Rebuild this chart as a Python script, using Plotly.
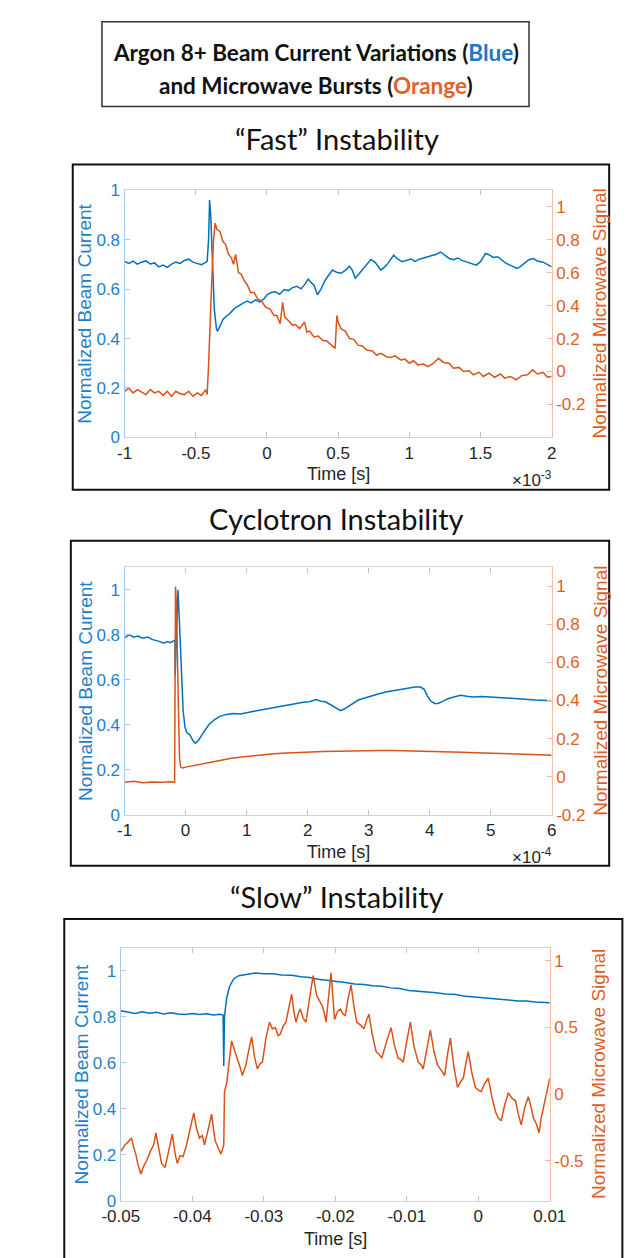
import plotly.graph_objects as go

W, H = 629, 1258
BLUE = '#0072BD'
ORANGE = '#D95319'
BLUE_TXT = '#1F80C8'
ORANGE_TXT = '#DE5F26'

# ---------------- data ----------------
# "Fast" instability, time in units of 1e-3 s
fast_blue = [(-1.00,0.712),(-0.97,0.704),(-0.94,0.713),(-0.91,0.701),(-0.88,0.709),(-0.85,0.714),(-0.82,0.702),(-0.79,0.706),(-0.76,0.690),(-0.73,0.697),(-0.70,0.688),(-0.67,0.701),(-0.64,0.709),(-0.61,0.704),(-0.58,0.716),(-0.55,0.721),(-0.52,0.709),(-0.49,0.704),(-0.46,0.699),(-0.43,0.708),(-0.42,0.712),(-0.41,0.80),(-0.403,0.96),(-0.395,0.90),(-0.385,0.72),(-0.37,0.52),(-0.355,0.44),(-0.347,0.43),(-0.33,0.45),(-0.31,0.476),(-0.29,0.488),(-0.26,0.502),(-0.23,0.521),(-0.20,0.533),(-0.17,0.542),(-0.14,0.552),(-0.11,0.544),(-0.08,0.556),(-0.05,0.548),(-0.02,0.561),(0.00,0.577),(0.03,0.586),(0.06,0.589),(0.09,0.579),(0.12,0.598),(0.15,0.594),(0.18,0.606),(0.21,0.611),(0.24,0.601),(0.27,0.622),(0.29,0.641),(0.31,0.626),(0.33,0.617),(0.355,0.577),(0.38,0.601),(0.41,0.637),(0.44,0.659),(0.46,0.677),(0.49,0.668),(0.52,0.664),(0.55,0.676),(0.58,0.693),(0.60,0.676),(0.62,0.644),(0.65,0.664),(0.69,0.690),(0.73,0.720),(0.76,0.708),(0.80,0.677),(0.83,0.691),(0.85,0.704),(0.89,0.737),(0.92,0.721),(0.95,0.711),(0.98,0.718),(1.01,0.722),(1.04,0.712),(1.07,0.721),(1.10,0.726),(1.13,0.731),(1.16,0.734),(1.19,0.741),(1.22,0.750),(1.25,0.736),(1.28,0.724),(1.31,0.719),(1.34,0.726),(1.37,0.716),(1.40,0.711),(1.43,0.704),(1.47,0.697),(1.50,0.711),(1.535,0.744),(1.56,0.739),(1.59,0.728),(1.62,0.731),(1.65,0.719),(1.68,0.704),(1.72,0.694),(1.755,0.684),(1.78,0.691),(1.81,0.706),(1.84,0.719),(1.87,0.724),(1.90,0.714),(1.94,0.709),(1.97,0.699),(2.00,0.690)]
fast_orange = [(-1.00,-0.12),(-0.97,-0.10),(-0.94,-0.13),(-0.91,-0.11),(-0.88,-0.125),(-0.85,-0.14),(-0.82,-0.11),(-0.79,-0.13),(-0.76,-0.12),(-0.73,-0.145),(-0.70,-0.12),(-0.67,-0.15),(-0.64,-0.12),(-0.61,-0.135),(-0.58,-0.14),(-0.55,-0.12),(-0.52,-0.15),(-0.49,-0.13),(-0.46,-0.145),(-0.43,-0.11),(-0.42,-0.14),(-0.41,0.04),(-0.39,0.50),(-0.375,0.80),(-0.364,0.90),(-0.35,0.86),(-0.33,0.85),(-0.31,0.79),(-0.29,0.77),(-0.27,0.71),(-0.25,0.69),(-0.235,0.65),(-0.22,0.71),(-0.20,0.60),(-0.18,0.59),(-0.16,0.55),(-0.14,0.53),(-0.115,0.48),(-0.09,0.48),(-0.065,0.44),(-0.04,0.43),(-0.01,0.39),(0.02,0.38),(0.05,0.34),(0.07,0.34),(0.093,0.29),(0.11,0.42),(0.125,0.33),(0.15,0.31),(0.18,0.28),(0.20,0.285),(0.23,0.26),(0.264,0.30),(0.28,0.24),(0.30,0.245),(0.33,0.21),(0.36,0.215),(0.39,0.19),(0.42,0.185),(0.45,0.16),(0.479,0.14),(0.491,0.34),(0.50,0.30),(0.52,0.26),(0.55,0.245),(0.58,0.20),(0.61,0.195),(0.64,0.16),(0.67,0.155),(0.70,0.13),(0.74,0.125),(0.77,0.10),(0.80,0.11),(0.84,0.09),(0.87,0.085),(0.90,0.095),(0.94,0.07),(0.97,0.075),(1.00,0.05),(1.03,0.065),(1.06,0.04),(1.10,0.045),(1.13,0.03),(1.17,0.05),(1.205,0.08),(1.24,0.055),(1.28,0.05),(1.31,0.02),(1.35,0.025),(1.38,0.00),(1.42,0.005),(1.45,-0.02),(1.49,-0.005),(1.52,-0.03),(1.56,-0.01),(1.60,-0.035),(1.64,-0.015),(1.67,-0.04),(1.71,-0.03),(1.75,-0.05),(1.79,-0.025),(1.83,-0.02),(1.866,0.01),(1.90,-0.015),(1.94,-0.005),(1.97,-0.035),(2.00,-0.03)]

# Cyclotron instability, time in units of 1e-4 s
cyc_blue = [(-1.00,0.788),(-0.92,0.80),(-0.85,0.79),(-0.78,0.795),(-0.70,0.785),(-0.62,0.79),(-0.55,0.78),(-0.48,0.775),(-0.42,0.77),(-0.36,0.763),(-0.30,0.77),(-0.25,0.765),(-0.20,0.775),(-0.175,0.777),(-0.17,0.62),(-0.16,0.70),(-0.14,0.90),(-0.125,1.00),(-0.10,0.85),(-0.07,0.62),(-0.04,0.46),(-0.01,0.39),(0.02,0.365),(0.07,0.355),(0.12,0.33),(0.16,0.318),(0.21,0.33),(0.27,0.356),(0.33,0.38),(0.38,0.40),(0.46,0.42),(0.55,0.436),(0.65,0.445),(0.78,0.45),(0.90,0.448),(1.00,0.452),(1.12,0.46),(1.23,0.466),(1.37,0.473),(1.52,0.48),(1.66,0.487),(1.80,0.495),(1.93,0.50),(2.03,0.502),(2.14,0.512),(2.22,0.505),(2.29,0.502),(2.37,0.49),(2.43,0.48),(2.54,0.463),(2.60,0.47),(2.66,0.48),(2.75,0.495),(2.83,0.51),(2.95,0.52),(3.06,0.53),(3.17,0.538),(3.28,0.546),(3.40,0.552),(3.51,0.558),(3.60,0.562),(3.68,0.564),(3.76,0.568),(3.85,0.568),(3.91,0.558),(3.96,0.53),(4.02,0.505),(4.08,0.495),(4.14,0.495),(4.22,0.505),(4.31,0.517),(4.41,0.525),(4.51,0.531),(4.61,0.527),(4.71,0.524),(4.85,0.526),(4.99,0.524),(5.13,0.52),(5.28,0.517),(5.42,0.516),(5.56,0.514),(5.73,0.51),(5.87,0.508),(6.00,0.507)]
cyc_orange = [(-1.00,-0.03),(-0.85,-0.025),(-0.70,-0.032),(-0.55,-0.028),(-0.40,-0.03),(-0.25,-0.027),(-0.19,-0.03),(-0.18,-0.03),(-0.165,1.00),(-0.15,0.90),(-0.12,0.40),(-0.10,0.10),(-0.08,0.05),(-0.05,0.045),(0.00,0.05),(0.10,0.056),(0.20,0.062),(0.32,0.07),(0.45,0.08),(0.61,0.088),(0.75,0.096),(0.89,0.102),(1.05,0.108),(1.23,0.114),(1.40,0.119),(1.57,0.123),(1.80,0.127),(2.03,0.13),(2.25,0.132),(2.49,0.134),(2.72,0.136),(2.94,0.137),(3.17,0.137),(3.40,0.137),(3.62,0.136),(3.85,0.134),(4.08,0.132),(4.31,0.13),(4.53,0.128),(4.76,0.125),(4.99,0.122),(5.22,0.12),(5.42,0.118),(5.62,0.117),(5.81,0.115),(6.00,0.113)]

# "Slow" instability, time in s
slow_blue = [(-0.0500,0.826),(-0.0490,0.820),(-0.0480,0.814),(-0.0470,0.821),(-0.0460,0.815),(-0.0450,0.819),(-0.0440,0.811),(-0.0430,0.817),(-0.0420,0.811),(-0.0410,0.809),(-0.0400,0.814),(-0.0390,0.809),(-0.0380,0.813),(-0.0370,0.807),(-0.0362,0.810),(-0.0357,0.807),(-0.0356,0.586),(-0.0355,0.800),(-0.0352,0.880),(-0.0348,0.930),(-0.0342,0.965),(-0.0335,0.978),(-0.0325,0.984),(-0.0312,0.990),(-0.0300,0.986),(-0.0287,0.986),(-0.0275,0.981),(-0.0261,0.980),(-0.0248,0.973),(-0.0236,0.970),(-0.0224,0.962),(-0.0211,0.958),(-0.0198,0.951),(-0.0186,0.948),(-0.0173,0.942),(-0.0160,0.940),(-0.0148,0.934),(-0.0135,0.932),(-0.0122,0.925),(-0.0110,0.922),(-0.0097,0.914),(-0.0084,0.911),(-0.0072,0.905),(-0.0059,0.904),(-0.0046,0.898),(-0.0034,0.897),(-0.0021,0.890),(-0.0009,0.887),(0.0004,0.882),(0.0017,0.881),(0.0029,0.875),(0.0042,0.872),(0.0055,0.868),(0.0067,0.868),(0.0080,0.864),(0.0090,0.863),(0.0100,0.860)]
slow_orange = [(-0.0500,-0.43),(-0.0497,-0.40),(-0.0494,-0.38),(-0.0490,-0.36),(-0.0485,-0.33),(-0.0482,-0.40),(-0.0479,-0.45),(-0.0476,-0.53),(-0.0472,-0.60),(-0.0468,-0.54),(-0.0464,-0.50),(-0.0458,-0.42),(-0.0454,-0.38),(-0.0451,-0.29),(-0.0447,-0.42),(-0.0443,-0.52),(-0.0438,-0.55),(-0.0434,-0.44),(-0.0431,-0.38),(-0.0428,-0.30),(-0.0424,-0.45),(-0.0421,-0.52),(-0.0417,-0.46),(-0.0413,-0.47),(-0.0408,-0.38),(-0.0403,-0.25),(-0.0398,-0.14),(-0.0394,-0.26),(-0.0390,-0.33),(-0.0386,-0.31),(-0.0383,-0.38),(-0.0378,-0.27),(-0.0373,-0.15),(-0.0370,-0.28),(-0.0368,-0.35),(-0.0364,-0.40),(-0.0360,-0.45),(-0.0356,-0.38),(-0.0355,0.02),(-0.0352,0.08),(-0.0350,0.17),(-0.0347,0.30),(-0.0345,0.40),(-0.0341,0.33),(-0.0337,0.27),(-0.0333,0.20),(-0.0330,0.14),(-0.0327,0.19),(-0.0325,0.22),(-0.0321,0.33),(-0.0317,0.43),(-0.0313,0.28),(-0.0309,0.19),(-0.0305,0.23),(-0.0302,0.24),(-0.0297,0.42),(-0.0292,0.54),(-0.0288,0.49),(-0.0284,0.50),(-0.0280,0.44),(-0.0277,0.45),(-0.0273,0.51),(-0.0269,0.54),(-0.0265,0.65),(-0.0261,0.75),(-0.0258,0.62),(-0.0255,0.54),(-0.0252,0.60),(-0.0249,0.64),(-0.0245,0.57),(-0.0241,0.54),(-0.0236,0.72),(-0.0231,0.89),(-0.0228,0.80),(-0.0226,0.74),(-0.0222,0.70),(-0.0218,0.66),(-0.0215,0.60),(-0.0213,0.54),(-0.0209,0.75),(-0.0206,0.91),(-0.0203,0.70),(-0.0201,0.56),(-0.0197,0.62),(-0.0193,0.64),(-0.0189,0.60),(-0.0186,0.59),(-0.0182,0.72),(-0.0178,0.82),(-0.0174,0.66),(-0.0170,0.54),(-0.0165,0.52),(-0.0160,0.49),(-0.0156,0.56),(-0.0153,0.60),(-0.0148,0.44),(-0.0143,0.32),(-0.0139,0.30),(-0.0135,0.27),(-0.0128,0.40),(-0.0122,0.50),(-0.0117,0.36),(-0.0112,0.27),(-0.0108,0.26),(-0.0105,0.24),(-0.0100,0.40),(-0.0095,0.54),(-0.0090,0.36),(-0.0084,0.24),(-0.0080,0.22),(-0.0077,0.19),(-0.0072,0.34),(-0.0067,0.48),(-0.0062,0.32),(-0.0057,0.22),(-0.0052,0.18),(-0.0047,0.14),(-0.0043,0.30),(-0.0039,0.42),(-0.0034,0.20),(-0.0029,0.05),(-0.0025,0.09),(-0.0021,0.12),(-0.0017,0.24),(-0.0014,0.32),(-0.0009,0.16),(-0.0004,0.05),(0.0000,0.03),(0.0004,0.02),(0.0009,0.08),(0.0014,0.12),(0.0019,-0.02),(0.0024,-0.13),(0.0028,-0.18),(0.0032,-0.20),(0.0037,-0.08),(0.0042,0.01),(0.0047,-0.03),(0.0052,-0.05),(0.0056,-0.15),(0.0060,-0.23),(0.0065,-0.10),(0.0070,-0.02),(0.0074,-0.10),(0.0077,-0.18),(0.0081,-0.22),(0.0085,-0.29),(0.0088,-0.18),(0.0092,-0.08),(0.0096,0.02),(0.0100,0.12)]

fast_xticks = [-1, -0.5, 0, 0.5, 1, 1.5, 2]
fast_xlabels = ['-1', '-0.5', '0', '0.5', '1', '1.5', '2']
cyc_xticks = [-1, 0, 1, 2, 3, 4, 5, 6]
cyc_xlabels = ['-1', '0', '1', '2', '3', '4', '5', '6']
slow_xticks = [-0.05, -0.04, -0.03, -0.02, -0.01, 0, 0.01]
slow_xlabels = ['-0.05', '-0.04', '-0.03', '-0.02', '-0.01', '0', '0.01']
left_ticks = [0, 0.2, 0.4, 0.6, 0.8, 1]
left_labels = ['0', '0.2', '0.4', '0.6', '0.8', '1']
right_ticks_fast = [-0.2, 0, 0.2, 0.4, 0.6, 0.8, 1]
right_labels_fast = ['-0.2', '0', '0.2', '0.4', '0.6', '0.8', '1']
right_ticks_slow = [-0.5, 0, 0.5, 1]
right_labels_slow = ['-0.5', '0', '0.5', '1']

titles = ["\u201cFast\u201d Instability", "Cyclotron Instability", "\u201cSlow\u201d Instability"]

# ---------------- layout helpers ----------------
def pxx(x):
    return x / W

def pyy(y):
    return 1 - y / H

TICKFONT = 'Liberation Sans, Arial, sans-serif'
TFS = 17
panels = [
    dict(data=(fast_blue, fast_orange), xd=(112, 565), yd=(184, 435), xr=[-1, 2], yl=[0, 1], yr=[-0.4, 1.1],
         xt=(fast_xticks, fast_xlabels), rt=(right_ticks_fast, right_labels_fast),
         mult='\u00d710<sup>-3</sup>', box=(57, 158, 626, 488), title_y=131, time_y=472, mult_y=477),
    dict(data=(cyc_blue, cyc_orange), xd=(112, 565), yd=(567, 818), xr=[-1, 6], yl=[0, 1.1], yr=[-0.2, 1.1],
         xt=(cyc_xticks, cyc_xlabels), rt=(right_ticks_fast, right_labels_fast),
         mult='\u00d710<sup>-4</sup>', box=(55, 540, 626, 870), title_y=517, time_y=856, mult_y=860),
    dict(data=(slow_blue, slow_orange), xd=(108, 563), yd=(953, 1210), xr=[-0.05, 0.01], yl=[0, 1.1], yr=[-0.8, 1.1],
         xt=(slow_xticks, slow_xlabels), rt=(right_ticks_slow, right_labels_slow),
         mult=None, box=(48, 924, 640, 1270), title_y=901, time_y=1249, mult_y=None),
]

fig = go.Figure()
layout = dict(width=W, height=H, margin=dict(l=0, r=0, t=0, b=0), paper_bgcolor='white', plot_bgcolor='white',
              showlegend=False)
annotations = []
shapes = []

for i, p in enumerate(panels, start=1):
    xname = 'x' if i == 1 else f'x{i}'
    xkey = 'xaxis' if i == 1 else f'xaxis{i}'
    li, ri = 2 * i - 1, 2 * i
    lname = 'y' if li == 1 else f'y{li}'
    lkey = 'yaxis' if li == 1 else f'yaxis{li}'
    rname, rkey = f'y{ri}', f'yaxis{ri}'
    blue, orange = p['data']
    bx, by = zip(*blue)
    ox, oy = zip(*orange)
    fig.add_trace(go.Scatter(x=bx, y=by, xaxis=xname, yaxis=lname, mode='lines',
                             line=dict(color=BLUE, width=1.5), hoverinfo='skip'))
    fig.add_trace(go.Scatter(x=ox, y=oy, xaxis=xname, yaxis=rname, mode='lines',
                             line=dict(color=ORANGE, width=1.5), hoverinfo='skip'))
    ydom = [pyy(p['yd'][1]), pyy(p['yd'][0])]
    layout[xkey] = dict(domain=[pxx(p['xd'][0]), pxx(p['xd'][1])], range=p['xr'], anchor=lname,
                        tickvals=p['xt'][0], ticktext=p['xt'][1], showline=True, linecolor='#d2d2d2', linewidth=1.2,
                        mirror='ticks', ticks='inside', ticklen=5, tickcolor='#c4c4c4', showgrid=False, zeroline=False,
                        tickfont=dict(family=TICKFONT, size=TFS, color='#262626'))
    layout[lkey] = dict(domain=ydom, range=p['yl'], anchor=xname, side='left', tickvals=left_ticks, ticktext=left_labels,
                        showline=True, linecolor='#a9cbea', linewidth=1.2, ticks='inside', ticklen=5,
                        tickcolor='#a9cbea', showgrid=False, zeroline=False,
                        tickfont=dict(family=TICKFONT, size=TFS, color=BLUE_TXT))
    layout[rkey] = dict(range=p['yr'], anchor=xname, overlaying=lname, side='right', tickvals=p['rt'][0],
                        ticktext=p['rt'][1], showline=True, linecolor='#f3bca3', linewidth=1.2, ticks='inside',
                        ticklen=5, tickcolor='#f3bca3', showgrid=False, zeroline=False,
                        tickfont=dict(family=TICKFONT, size=TFS, color=ORANGE_TXT))
    ymid = (ydom[0] + ydom[1]) / 2
    annotations.append(dict(text='Normalized Beam Current', x=pxx(p['xd'][0] - 42), y=ymid, xref='paper', yref='paper',
                            textangle=-90, showarrow=False, xanchor='center', yanchor='middle',
                            font=dict(family=TICKFONT, size=19, color=BLUE_TXT)))
    annotations.append(dict(text='Normalized Microwave Signal', x=pxx(p['xd'][1] + 51), y=ymid, xref='paper', yref='paper',
                            textangle=-90, showarrow=False, xanchor='center', yanchor='middle',
                            font=dict(family=TICKFONT, size=19, color=ORANGE_TXT)))
    xmid = (p['xd'][0] + p['xd'][1]) / 2
    annotations.append(dict(text='Time [s]', x=pxx(xmid), y=pyy(p['time_y']), xref='paper', yref='paper',
                            showarrow=False, xanchor='center', yanchor='middle',
                            font=dict(family=TICKFONT, size=18, color='#262626')))
    if p['mult']:
        annotations.append(dict(text=p['mult'], x=pxx(p['xd'][1] + 2), y=pyy(p['mult_y']), xref='paper', yref='paper',
                                showarrow=False, xanchor='right', yanchor='middle',
                                font=dict(family=TICKFONT, size=17, color='#262626')))
    annotations.append(dict(text=titles[i - 1], x=pxx(337), y=pyy(p['title_y']), xref='paper', yref='paper',
                            showarrow=False, xanchor='center', yanchor='middle',
                            font=dict(family='Lato, Open Sans, sans-serif', size=29, color='#111111')))
    x0, y0, x1, y1 = p['box']
    shapes.append(dict(type='rect', xref='paper', yref='paper', x0=pxx(x0), x1=pxx(x1), y0=pyy(y1), y1=pyy(y0),
                       line=dict(color='#111111', width=2), fillcolor='rgba(0,0,0,0)', layer='above'))

# main title box
shapes.append(dict(type='rect', xref='paper', yref='paper', x0=pxx(88), x1=pxx(541), y0=pyy(99), y1=pyy(13),
                   line=dict(color='#333333', width=1.5), fillcolor='rgba(0,0,0,0)'))
annotations.append(dict(text="<b>Argon 8+ Beam Current Variations (<span style='color:#2277C0'>Blue</span>)</b>",
                        x=pxx(315), y=pyy(44), xref='paper', yref='paper', showarrow=False,
                        xanchor='center', yanchor='middle', font=dict(family='Lato, Open Sans, sans-serif', size=22.5, color='#111111')))
annotations.append(dict(text="<b>and Microwave Bursts (<span style='color:#E2622A'>Orange</span>)</b>",
                        x=pxx(315), y=pyy(78), xref='paper', yref='paper', showarrow=False,
                        xanchor='center', yanchor='middle', font=dict(family='Lato, Open Sans, sans-serif', size=22.5, color='#111111')))

layout['annotations'] = annotations
layout['shapes'] = shapes
fig.update_layout(**layout)
fig.write_html('out.html')
